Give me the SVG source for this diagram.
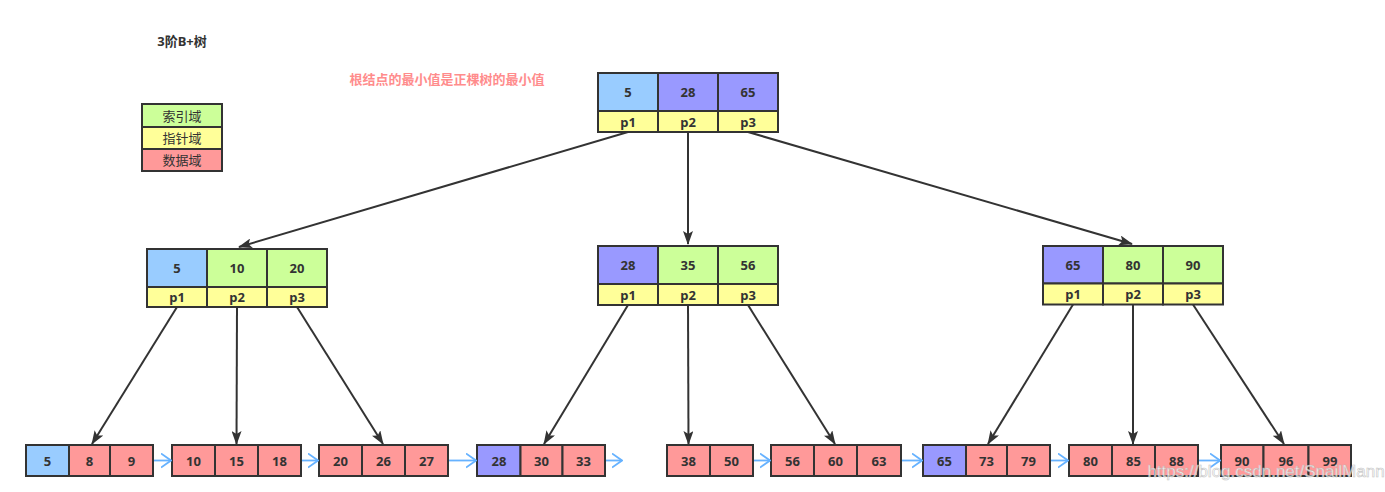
<svg xmlns="http://www.w3.org/2000/svg" width="1385" height="492" viewBox="0 0 1385 492">
<defs>
<style>
.c{stroke:#333;stroke-width:2}
.bl{fill:#99CCFF}.pu{fill:#9999FF}.gr{fill:#CCFF99}.ye{fill:#FFFF99}.rd{fill:#FF9999}
text{font-family:"Noto Sans","Noto Sans CJK SC",sans-serif;font-size:13px;fill:#333;text-anchor:middle;dominant-baseline:central}
.b{font-weight:bold}
.e{fill:none;stroke:#333;stroke-width:2}
.l{fill:none;stroke:#66B2FF;stroke-width:1.8}
</style>
<marker id="a" viewBox="0 0 14 10" refX="13" refY="5" markerWidth="14" markerHeight="10" orient="auto" markerUnits="userSpaceOnUse"><path d="M0,0 L14,5 L0,10 L3,5 Z" fill="#333"/></marker>
<marker id="v" viewBox="0 0 11 16" refX="10" refY="8" markerWidth="11" markerHeight="16" orient="auto" markerUnits="userSpaceOnUse"><path d="M0,1 L10,8 L0,15" fill="none" stroke="#66B2FF" stroke-width="1.8"/></marker>
</defs>
<rect width="1385" height="492" fill="#fff"/>
<text class="b" x="182" y="41">3阶B+树</text>
<text class="b" x="447" y="79" style="fill:#FF8C8C">根结点的最小值是正棵树的最小值</text>
<g id="legend">
<rect class="c gr" x="142" y="104" width="80" height="23"/>
<rect class="c ye" x="142" y="127" width="80" height="22"/>
<rect class="c rd" x="142" y="149" width="80" height="22"/>
<text x="182" y="115.5">索引域</text>
<text x="182" y="138">指针域</text>
<text x="182" y="160">数据域</text>
</g>
<g id="root">
<rect class="c bl" x="598" y="73" width="60" height="38"/><rect class="c pu" x="658" y="73" width="60" height="38"/><rect class="c pu" x="718" y="73" width="60" height="38"/>
<rect class="c ye" x="598" y="111" width="60" height="21"/><rect class="c ye" x="658" y="111" width="60" height="21"/><rect class="c ye" x="718" y="111" width="60" height="21"/>
<text class="b" x="628" y="92">5</text><text class="b" x="688" y="92">28</text><text class="b" x="748" y="92">65</text>
<text class="b" x="628" y="121.5">p1</text><text class="b" x="688" y="121.5">p2</text><text class="b" x="748" y="121.5">p3</text>
</g>
<g id="n1">
<rect class="c bl" x="147" y="249" width="60" height="38"/><rect class="c gr" x="207" y="249" width="60" height="38"/><rect class="c gr" x="267" y="249" width="60" height="38"/>
<rect class="c ye" x="147" y="287" width="60" height="20"/><rect class="c ye" x="207" y="287" width="60" height="20"/><rect class="c ye" x="267" y="287" width="60" height="20"/>
<text class="b" x="177" y="268">5</text><text class="b" x="237" y="268">10</text><text class="b" x="297" y="268">20</text>
<text class="b" x="177" y="297">p1</text><text class="b" x="237" y="297">p2</text><text class="b" x="297" y="297">p3</text>
</g>
<g id="n2">
<rect class="c pu" x="598" y="246" width="60" height="38"/><rect class="c gr" x="658" y="246" width="60" height="38"/><rect class="c gr" x="718" y="246" width="60" height="38"/>
<rect class="c ye" x="598" y="284" width="60" height="21"/><rect class="c ye" x="658" y="284" width="60" height="21"/><rect class="c ye" x="718" y="284" width="60" height="21"/>
<text class="b" x="628" y="265">28</text><text class="b" x="688" y="265">35</text><text class="b" x="748" y="265">56</text>
<text class="b" x="628" y="294.5">p1</text><text class="b" x="688" y="294.5">p2</text><text class="b" x="748" y="294.5">p3</text>
</g>
<g id="n3">
<rect class="c pu" x="1043" y="246" width="60" height="37.5"/><rect class="c gr" x="1103" y="246" width="60" height="37.5"/><rect class="c gr" x="1163" y="246" width="60" height="37.5"/>
<rect class="c ye" x="1043" y="283.5" width="60" height="21"/><rect class="c ye" x="1103" y="283.5" width="60" height="21"/><rect class="c ye" x="1163" y="283.5" width="60" height="21"/>
<text class="b" x="1073" y="265">65</text><text class="b" x="1133" y="265">80</text><text class="b" x="1193" y="265">90</text>
<text class="b" x="1073" y="294">p1</text><text class="b" x="1133" y="294">p2</text><text class="b" x="1193" y="294">p3</text>
</g>
<g id="leaf1">
<rect class="c bl" x="26" y="445" width="43" height="31"/><rect class="c rd" x="69" y="445" width="41" height="31"/><rect class="c rd" x="110" y="445" width="43" height="31"/>
<text class="b" x="47.5" y="460.5">5</text><text class="b" x="89.5" y="460.5">8</text><text class="b" x="131.5" y="460.5">9</text>
</g>
<g id="leaf2">
<rect class="c rd" x="172" y="445" width="43" height="31"/><rect class="c rd" x="215" y="445" width="43" height="31"/><rect class="c rd" x="258" y="445" width="43" height="31"/>
<text class="b" x="193.5" y="460.5">10</text><text class="b" x="236.5" y="460.5">15</text><text class="b" x="279.5" y="460.5">18</text>
</g>
<g id="leaf3">
<rect class="c rd" x="319" y="445" width="43" height="31"/><rect class="c rd" x="362" y="445" width="43" height="31"/><rect class="c rd" x="405" y="445" width="43" height="31"/>
<text class="b" x="340.5" y="460.5">20</text><text class="b" x="383.5" y="460.5">26</text><text class="b" x="426.5" y="460.5">27</text>
</g>
<g id="leaf4">
<rect class="c pu" x="477" y="445" width="43.5" height="31"/><rect class="c rd" x="520.5" y="445" width="42" height="31"/><rect class="c rd" x="562.5" y="445" width="42.5" height="31"/>
<text class="b" x="499" y="460.5">28</text><text class="b" x="541.5" y="460.5">30</text><text class="b" x="583.5" y="460.5">33</text>
</g>
<g id="leaf5">
<rect class="c rd" x="667" y="445" width="43" height="31"/><rect class="c rd" x="710" y="445" width="43" height="31"/>
<text class="b" x="688.5" y="460.5">38</text><text class="b" x="731.5" y="460.5">50</text>
</g>
<g id="leaf6">
<rect class="c rd" x="771" y="445" width="43" height="31"/><rect class="c rd" x="814" y="445" width="43" height="31"/><rect class="c rd" x="857" y="445" width="44" height="31"/>
<text class="b" x="792.5" y="460.5">56</text><text class="b" x="835.5" y="460.5">60</text><text class="b" x="879" y="460.5">63</text>
</g>
<g id="leaf7">
<rect class="c pu" x="923" y="445" width="43" height="31"/><rect class="c rd" x="966" y="445" width="41" height="31"/><rect class="c rd" x="1007" y="445" width="43" height="31"/>
<text class="b" x="944.5" y="460.5">65</text><text class="b" x="986.5" y="460.5">73</text><text class="b" x="1028.5" y="460.5">79</text>
</g>
<g id="leaf8">
<rect class="c rd" x="1069" y="445" width="43" height="31"/><rect class="c rd" x="1112" y="445" width="43" height="31"/><rect class="c rd" x="1155" y="445" width="43" height="31"/>
<text class="b" x="1090.5" y="460.5">80</text><text class="b" x="1133.5" y="460.5">85</text><text class="b" x="1176.5" y="460.5">88</text>
</g>
<g id="leaf9">
<rect class="c rd" x="1221" y="445" width="42.5" height="31"/><rect class="c rd" x="1263.5" y="445" width="45" height="31"/><rect class="c rd" x="1308.5" y="445" width="42.5" height="31"/>
<text class="b" x="1242" y="460.5">90</text><text class="b" x="1286" y="460.5">96</text><text class="b" x="1330" y="460.5">99</text>
</g>
<g id="connectors">
<path class="e" marker-end="url(#a)" d="M628,132 L239,247"/>
<path class="e" marker-end="url(#a)" d="M688,132 L688,244"/>
<path class="e" marker-end="url(#a)" d="M748,132 L1132,244"/>
<path class="e" marker-end="url(#a)" d="M177,307 L92,444"/>
<path class="e" marker-end="url(#a)" d="M237,307 L236.5,444"/>
<path class="e" marker-end="url(#a)" d="M297,307 L383,444"/>
<path class="e" marker-end="url(#a)" d="M628,305 L544,444"/>
<path class="e" marker-end="url(#a)" d="M688,305 L688.5,444"/>
<path class="e" marker-end="url(#a)" d="M748,305 L835,444"/>
<path class="e" marker-end="url(#a)" d="M1073,304.5 L988,444"/>
<path class="e" marker-end="url(#a)" d="M1133,304.5 L1133,444"/>
<path class="e" marker-end="url(#a)" d="M1193,304.5 L1284,444"/>
<path class="l" marker-end="url(#v)" d="M154,460.5 L171,460.5"/>
<path class="l" marker-end="url(#v)" d="M302,460.5 L318,460.5"/>
<path class="l" marker-end="url(#v)" d="M449,460.5 L476,460.5"/>
<path class="l" marker-end="url(#v)" d="M606,460.5 L622,460.5"/>
<path class="l" marker-end="url(#v)" d="M754,460.5 L770,460.5"/>
<path class="l" marker-end="url(#v)" d="M902,460.5 L922,460.5"/>
<path class="l" marker-end="url(#v)" d="M1051,460.5 L1068,460.5"/>
<path class="l" marker-end="url(#v)" d="M1199,460.5 L1220,460.5"/>
</g>
<text x="1266" y="471" style="font-family:'Liberation Sans',sans-serif;font-size:17px;fill:#fff;stroke:#bbb;stroke-width:0.6;opacity:0.85">https://blog.csdn.net/SnailMann</text>
</svg>
